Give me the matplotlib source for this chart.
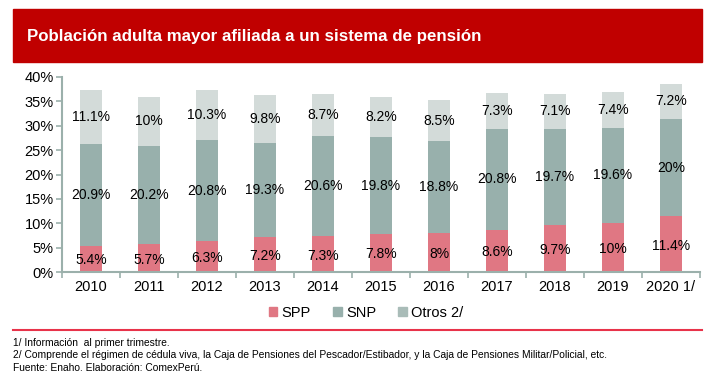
import numpy as np
import matplotlib.pyplot as plt
from matplotlib.patches import Rectangle
from matplotlib.lines import Line2D

plt.rcParams['font.family'] = ['Liberation Sans', 'DejaVu Sans']

anios = ['2010', '2011', '2012', '2013', '2014', '2015', '2016', '2017', '2018', '2019', '2020 1/']
spp = [5.4, 5.7, 6.3, 7.2, 7.3, 7.8, 8.0, 8.6, 9.7, 10.0, 11.4]
snp = [20.9, 20.2, 20.8, 19.3, 20.6, 19.8, 18.8, 20.8, 19.7, 19.6, 20.0]
otros = [11.1, 10.0, 10.3, 9.8, 8.7, 8.2, 8.5, 7.3, 7.1, 7.4, 7.2]

col_spp = '#e07783'
col_snp = '#98b0ac'
col_otros = '#d3dbd9'
col_eje = '#9bb0ab'

def etiqueta(v):
    return f'{v:g}%'

fig = plt.figure(figsize=(7.14, 3.83), dpi=100)

# banda roja del titulo
fig.patches.append(Rectangle((13 / 714, 1 - 62 / 383), 689 / 714, 53 / 383,
                             transform=fig.transFigure, color='#c00000', zorder=0))
fig.text(27 / 714, 1 - 36 / 383, 'Población adulta mayor afiliada a un sistema de pensión',
         color='white', fontsize=12.2, fontweight='bold', va='center', ha='left')

ax = fig.add_axes([62 / 714, 1 - 272 / 383, 638 / 714, 195 / 383])
x = np.arange(len(anios))
spp_a = np.array(spp)
snp_a = np.array(snp)
otros_a = np.array(otros)
w = 0.39
ax.bar(x, spp_a, w, color=col_spp, label='SPP')
ax.bar(x, snp_a, w, bottom=spp_a, color=col_snp, label='SNP')
ax.bar(x, otros_a, w, bottom=spp_a + snp_a, color=col_otros, label='Otros 2/')

for i in range(len(anios)):
    ax.text(x[i], spp_a[i] / 2 - 0.3, etiqueta(spp[i]), ha='center', va='center', fontsize=10)
    ax.text(x[i], spp_a[i] + snp_a[i] / 2, etiqueta(snp[i]), ha='center', va='center', fontsize=10)
    ax.text(x[i], spp_a[i] + snp_a[i] + otros_a[i] / 2, etiqueta(otros[i]),
            ha='center', va='center', fontsize=10)

ax.set_xlim(-0.5, len(anios) - 0.5)
ax.set_ylim(0, 40)
ax.set_yticks(np.arange(0, 41, 5))
ax.set_yticklabels([f'{v}%' for v in range(0, 41, 5)], fontsize=10.5)
ax.set_xticks(x)
ax.set_xticklabels(anios, fontsize=10.5)
ax.tick_params(axis='x', length=0, pad=6)
ax.set_xticks(np.arange(-0.5, len(anios), 1), minor=True)
ax.tick_params(axis='x', which='minor', length=4, color=col_eje, width=1.2)
ax.tick_params(axis='y', length=4, color=col_eje, width=1.2, pad=2)
for s in ['top', 'right']:
    ax.spines[s].set_visible(False)
for s in ['left', 'bottom']:
    ax.spines[s].set_color(col_eje)
    ax.spines[s].set_linewidth(1.5)

h = [Rectangle((0, 0), 1, 1, color=col_spp), Rectangle((0, 0), 1, 1, color=col_snp),
     Rectangle((0, 0), 1, 1, color='#a9bcb8')]
fig.legend(h, ['SPP', 'SNP', 'Otros 2/'], loc='center', bbox_to_anchor=(366 / 714, 1 - 313 / 383),
           ncol=3, frameon=False, fontsize=10.5, handlelength=0.6, handleheight=0.6,
           handletextpad=0.3, columnspacing=1.5)

fig.add_artist(Line2D([13 / 714, 702 / 714], [1 - 330 / 383, 1 - 330 / 383],
                      color='#e8334a', lw=1.5, transform=fig.transFigure))

notas = ['1/ Información  al primer trimestre.',
         '2/ Comprende el régimen de cédula viva, la Caja de Pensiones del Pescador/Estibador, y la Caja de Pensiones Militar/Policial, etc.',
         'Fuente: Enaho. Elaboración: ComexPerú.']
for k, t in enumerate(notas):
    fig.text(13 / 714, 1 - (343 + 12.5 * k) / 383, t, fontsize=7.4, va='center', ha='left')

fig.savefig('out.png', dpi=100)
